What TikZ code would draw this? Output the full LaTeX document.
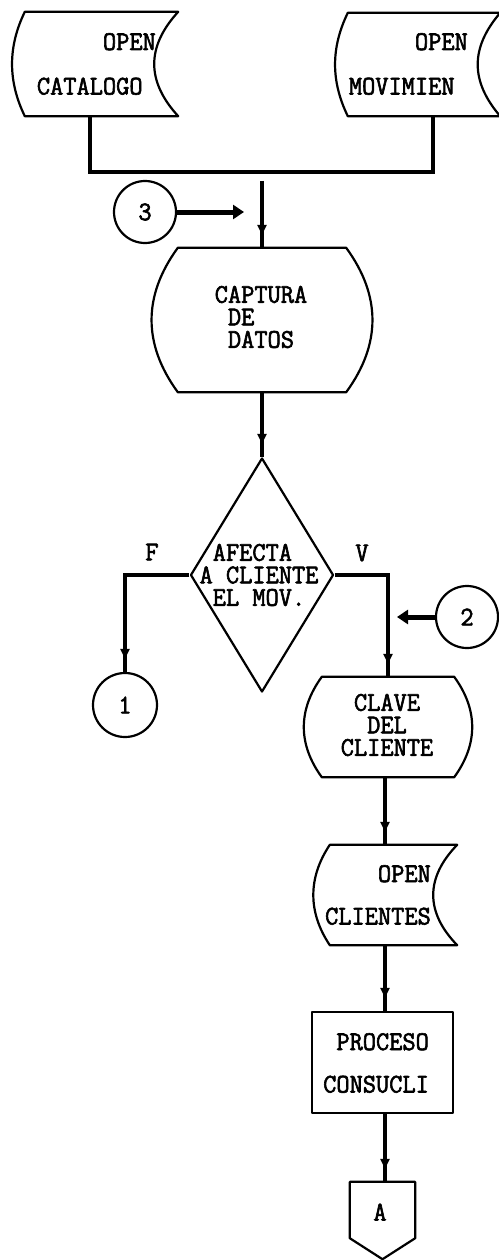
\documentclass[tikz,border=0pt]{standalone}
\usepackage{fontspec}
\newfontfamily\plotfont[FakeStretch=0.95, BoldFont={Latin Modern Mono}, BoldFeatures={FakeBold=2.2, FakeStretch=0.95}]{Latin Modern Mono}
\usetikzlibrary{arrows.meta,decorations.markings,shapes.geometric,calc}
\newcommand\drawStored[4]{%
  \draw[outline] (#1.north west) -- (#1.north east)
    .. controls +(-#3,#4) and +(-#3,-#4) .. (#1.south east)
    -- (#1.south west)
    .. controls +(-#2,-#4) and +(-#2,#4) .. (#1.north west) -- cycle;}
\newcommand\drawBarrel[3]{%
  \draw[outline] (#1.north west) -- (#1.north east)
    .. controls +(#2,#3) and +(#2,-#3) .. (#1.south east)
    -- (#1.south west)
    .. controls +(-#2,-#3) and +(-#2,#3) .. (#1.north west) -- cycle;}
\begin{document}
\begin{tikzpicture}[x=1pt,y=-1pt,
  outline/.style={draw=black, line width=2.2pt, line join=round},
  hidden/.style={draw=none, inner sep=0pt},
  txt/.style={font=\plotfont\bfseries\fontsize{27}{22.5}\selectfont, inner sep=0pt},
  flow/.style={line width=3.4pt},
  flowarrow/.style={flow, postaction={decorate},
    decoration={markings, mark=at position -13pt with {\arrow{Triangle[length=10pt,width=9pt]}}}},
  bigarrow/.style={line width=5pt, -{Triangle[length=11pt,width=14pt]}},
  conn/.style={circle, outline, minimum size=62pt, inner sep=0pt, txt}
]
\useasboundingbox (0,0) rectangle (498,1260);
\fill[white] (0,0) rectangle (498,1260);

% ---------- stored data: OPEN CATALOGO / OPEN MOVIMIEN ----------
\node[hidden, minimum width=153pt, minimum height=104pt] (cat) at (101.5,64) {};
\drawStored{cat}{17}{32}{35}
\node[txt, align=right, anchor=east] (catT) at (156,64) {OPEN\\[22pt]CATALOGO\phantom{A}};

\node[hidden, minimum width=152pt, minimum height=103pt] (mov) at (424,64.5) {};
\drawStored{mov}{17}{30}{35}
\node[txt, align=right, anchor=east] (movT) at (468,64) {OPEN\\[22pt]MOVIMIEN\phantom{A}};

% bus
\coordinate (busL) at (90,172);
\coordinate (busR) at (433,172);
\draw[flow, line width=4pt] (cat.south -| busL) -- (busL) -- (busR) -- (mov.south -| busR);

% ---------- CAPTURA DE DATOS ----------
\node[hidden, minimum width=168pt, minimum height=144pt] (cap) at (262,320) {};
\drawBarrel{cap}{35}{48}
\node[txt, align=left] (capT) at (261,317) {CAPTURA\\\phantom{A}DE\\\phantom{A}DATOS};

\coordinate (capin) at (262,181);
\draw[flowarrow] (capin) -- (cap.north);

% connector 3
\node[conn] (c3) at (145,212) {3};
\coordinate (j3) at (244,212);
\draw[bigarrow] (c3.east) -- (j3);

% ---------- decision ----------
\node[diamond, outline, minimum width=143pt, minimum height=234pt, inner sep=0pt] (dec) at (262,575) {};
\node[txt, align=left] (decT) at (259,575) {\phantom{A}AFECTA\\A CLIENTE\\\phantom{A}EL MOV.};
\draw[flowarrow] (cap.south) -- (dec.north);

\node[txt] (fl) at (152,552) {F};
\node[txt] (vl) at (362,553) {V};

\node[conn, minimum size=64pt] (c1) at (125,705) {1};
\coordinate (fc) at (125,575);
\draw[flowarrow] (dec.west) -- (fc) -- (c1.north);

% ---------- CLAVE DEL CLIENTE ----------
\node[hidden, minimum width=132pt, minimum height=100pt] (clave) at (388,727) {};
\drawBarrel{clave}{24}{33}
\node[txt, align=center] (claveT) at (387,725) {CLAVE\\DEL\\CLIENTE};

\coordinate (vc) at (388,575);
\draw[flowarrow] (dec.east) -- (vc) -- (clave.north);

% connector 2
\node[conn] (c2) at (467,617) {2};
\coordinate (j2) at (397,617);
\draw[bigarrow] (c2.west) -- (j2);

% ---------- OPEN CLIENTES ----------
\coordinate (col) at (385,0);
\node[hidden, minimum width=127pt, minimum height=100pt] (cli) at (393.5,895) {};
\drawStored{cli}{22}{32}{33}
\node[txt, align=right, anchor=east] (cliT) at (431,895) {OPEN\\[20pt]CLIENTES};
\draw[flowarrow] (clave.south -| col) -- (cli.north -| col);

% ---------- PROCESO CONSUCLI ----------
\node[outline, rectangle, minimum width=141pt, minimum height=101pt, inner sep=0pt] (proc) at (382.5,1062.5) {};
\node[txt, align=left, anchor=west] (procT) at (323,1063) {\phantom{A}PROCESO\\[20pt]CONSUCLI};
\draw[flowarrow] (cli.south -| col) -- (proc.north -| col);

% ---------- off-page connector A ----------
\node[hidden, minimum width=65pt, minimum height=56pt] (offA) at (382.5,1210) {};
\draw[outline] (offA.north west) -- (offA.north east) -- (offA.south east)
  -- ($(offA.south)+(0,21)$) -- (offA.south west) -- cycle;
\node[txt] (offAT) at (380,1212) {A};
\draw[flowarrow] (proc.south -| col) -- (offA.north -| col);
\end{tikzpicture}
\end{document}
